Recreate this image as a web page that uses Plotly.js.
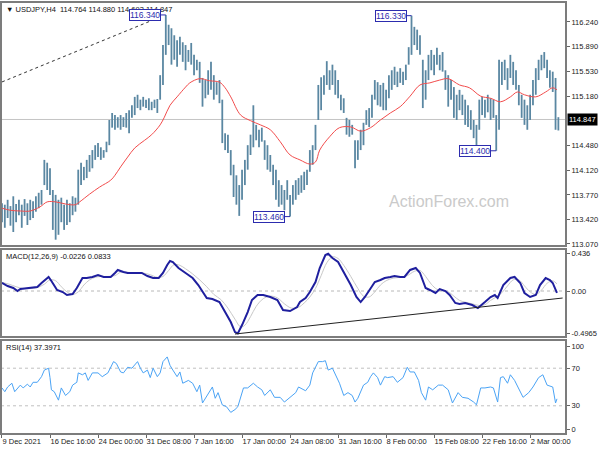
<!DOCTYPE html>
<html><head><meta charset="utf-8">
<script src="https://cdn.plot.ly/plotly-3.0.1.min.js"></script>
<style>html,body{margin:0;padding:0;background:#fff}#chart{width:600px;height:450px}</style>
</head><body><div id="chart"></div>
<script>
const symbolName = 'USDJPY,H4';
const lastBar = [114.764, 114.880, 114.693, 114.847];
const barsPerEntry = 2;
const barHigh = [113.65,113.63,113.70,113.61,113.75,113.64,113.70,113.63,113.71,113.65,
113.70,113.68,113.75,113.80,113.84,114.27,114.23,114.15,113.84,113.77,
113.70,113.73,113.63,113.70,113.65,113.75,113.73,114.13,114.23,114.17,
114.27,114.34,114.41,114.48,114.51,114.45,114.41,114.53,114.84,114.94,
114.91,114.88,114.91,114.88,114.94,114.98,115.05,115.17,115.20,115.13,
115.17,115.13,115.15,115.10,115.13,115.14,115.48,115.91,116.34,116.20,
116.15,116.05,115.98,116.03,115.95,115.91,115.84,115.94,115.77,115.70,
115.67,115.44,115.41,115.55,115.67,115.48,115.38,115.41,115.13,114.65,
114.63,114.41,114.20,114.05,113.91,114.13,114.27,114.48,114.63,115.05,
114.77,114.70,114.73,114.55,114.48,114.34,114.20,114.13,113.98,113.91,
113.84,113.98,113.77,113.91,113.98,114.01,114.05,114.10,114.13,114.41,
114.48,114.77,115.34,115.45,115.48,115.68,115.55,115.63,115.55,115.41,
115.20,115.15,114.87,114.84,114.77,114.55,114.55,114.70,114.80,114.98,
115.01,115.20,115.41,115.38,115.34,115.37,115.27,115.48,115.55,115.60,
115.53,115.58,115.53,115.63,115.88,116.33,116.17,116.13,116.05,115.70,
115.55,115.77,115.84,115.77,115.87,115.77,115.81,115.55,115.48,115.41,
115.31,115.20,115.27,115.20,115.13,115.05,114.98,114.84,114.77,115.13,
115.17,115.13,115.20,115.15,115.13,114.91,115.70,115.67,115.70,115.58,
115.77,115.67,115.55,115.34,115.20,115.13,115.05,115.20,115.41,115.58,
115.70,115.77,115.81,115.70,115.55,115.53,115.44,114.88];
const barLow = [113.38,113.30,113.44,113.33,113.24,113.38,113.48,113.30,113.47,113.34,
113.41,113.44,113.53,113.58,113.63,113.91,113.84,113.77,113.27,113.13,
113.20,113.38,113.27,113.34,113.38,113.48,113.53,113.63,113.91,113.98,
114.01,114.10,114.15,114.27,114.31,114.27,114.30,114.38,114.48,114.73,
114.70,114.73,114.70,114.74,114.73,114.65,114.87,114.91,115.01,114.98,
115.03,115.01,114.98,114.98,115.01,114.94,115.13,115.34,115.77,115.91,
115.63,115.70,115.60,115.77,115.67,115.55,115.67,115.63,115.48,115.55,
115.37,115.03,115.15,115.20,115.27,115.13,115.20,115.08,114.51,114.41,
114.37,114.05,113.74,113.63,113.47,113.70,113.91,114.13,114.34,114.45,
114.55,114.45,114.53,114.27,114.13,114.10,113.91,113.70,113.60,113.63,
113.55,113.70,113.46,113.63,113.70,113.77,113.80,113.84,113.91,114.10,
114.20,114.41,114.84,114.98,115.20,115.34,115.27,115.34,115.20,115.15,
114.98,114.94,114.63,114.60,114.63,114.15,114.27,114.41,114.48,114.77,
114.74,114.87,115.13,115.05,115.03,114.98,114.98,115.15,115.27,115.34,
115.31,115.37,115.34,115.41,115.63,115.77,115.91,115.84,115.77,115.01,
115.13,115.41,115.55,115.48,115.63,115.55,115.53,115.27,115.03,115.13,
114.87,114.84,114.98,114.91,114.77,114.74,114.70,114.58,114.48,114.70,
114.91,114.87,114.95,114.84,114.87,114.40,114.70,115.34,115.41,115.27,
115.44,115.34,115.27,115.05,114.87,114.77,114.70,114.84,115.05,115.20,
115.41,115.55,115.58,115.44,115.30,115.24,114.70,114.69];

const maIdx = [0,6,13,20,27,32,38,45,52,55,62,69,77,80,84,89,94,101,106,112,
115,119,124,130,133,140,147,154,158,162,169,176,183,190,197,204,211,218,222,225,
232,239,247,254,261,268,275,282,289,296,303,310,316,324,331,339,346,353,360,365,
370,378,385,390,393];
const maVal = [113.58,113.55,113.54,113.54,113.60,113.67,113.67,113.64,113.63,113.67,
113.78,113.88,113.98,114.05,114.17,114.31,114.44,114.55,114.63,114.77,
114.88,115.05,115.17,115.31,115.37,115.43,115.40,115.38,115.30,115.17,
114.91,114.83,114.77,114.70,114.53,114.34,114.27,114.21,114.24,114.41,
114.60,114.73,114.74,114.68,114.73,114.84,114.94,115.03,115.18,115.34,
115.37,115.41,115.43,115.34,115.30,115.18,115.15,115.10,115.17,115.24,
115.20,115.17,115.24,115.30,115.27];

const trendIdx = [0, 112];
const trendVal = [115.383, 116.31];

const markIdx = [116, 290, 204, 350];
const markPrice = [116.34, 116.33, 113.46, 114.40];
const markText = ['116.340', '116.330', '113.460', '114.400'];

const macdIdx = [0,4,8,11,13,20,25,28,31,33,35,39,43,46,50,53,57,60,64,68,
72,77,80,82,86,89,94,99,103,107,111,114,117,119,121,125,130,135,139,142,
145,149,154,158,162,165,167,170,174,177,181,185,190,195,199,204,209,211,215,218,
222,225,229,231,234,238,242,247,251,254,257,261,264,268,271,275,278,282,285,289,
293,296,300,303,307,310,314,317,321,324,328,333,337,342,346,349,351,355,360,363,
367,370,374,378,381,385,388,390,393];
const macdVal = [0.094,0.058,0.035,0.0,0.023,0.035,0.047,0.094,0.140,0.164,
0.117,0.012,-0.012,-0.047,-0.035,0.035,0.152,0.152,0.164,0.187,
0.164,0.164,0.211,0.246,0.222,0.211,0.211,0.211,0.175,0.152,
0.152,0.211,0.304,0.351,0.339,0.269,0.211,0.152,0.070,-0.012,
-0.082,-0.094,-0.129,-0.246,-0.363,-0.480,-0.4965,-0.398,-0.246,-0.105,
-0.047,-0.047,-0.070,-0.105,-0.222,-0.234,-0.187,-0.129,-0.082,-0.012,
0.105,0.269,0.421,0.436,0.386,0.339,0.222,0.070,-0.070,-0.129,
-0.070,0.035,0.105,0.129,0.152,0.164,0.175,0.164,0.164,0.246,
0.269,0.211,0.035,0.012,-0.023,0.023,0.0,-0.047,-0.140,-0.152,
-0.140,-0.164,-0.199,-0.129,-0.070,-0.047,-0.082,0.070,0.152,0.164,
0.094,-0.023,-0.070,-0.047,0.070,0.152,0.129,0.094,-0.0226];
const sigIdx = [0,5,10,15,20,25,30,34,38,42,46,50,54,58,62,66,70,75,80,84,
88,95,100,105,110,114,118,122,126,130,135,140,145,150,155,160,165,169,172,176,
180,185,190,195,200,205,210,214,218,222,226,230,234,238,242,247,252,256,260,264,
268,272,277,282,287,292,296,300,304,308,312,316,320,324,328,333,338,342,346,350,
354,358,362,366,370,374,378,382,386,390,393];
const sigVal = [0.10,0.08,0.05,0.03,0.03,0.04,0.08,0.13,0.12,0.05,
-0.01,-0.04,-0.01,0.07,0.13,0.16,0.17,0.17,0.18,0.22,
0.22,0.21,0.21,0.19,0.16,0.17,0.24,0.31,0.30,0.26,
0.20,0.13,0.05,-0.04,-0.10,-0.20,-0.33,-0.42,-0.40,-0.30,
-0.18,-0.09,-0.06,-0.08,-0.15,-0.20,-0.19,-0.14,-0.07,0.03,
0.18,0.33,0.40,0.38,0.30,0.17,0.03,-0.06,-0.07,-0.01,
0.07,0.12,0.15,0.16,0.18,0.23,0.24,0.17,0.08,0.02,
0.00,-0.01,-0.06,-0.11,-0.13,-0.15,-0.17,-0.16,-0.11,-0.07,
-0.02,0.06,0.13,0.13,0.06,-0.01,-0.04,0.01,0.09,0.12,0.0833];
const macdTrendIdx = [165, 397];
const macdTrendVal = [-0.503, -0.082];

const rsiIdx = [0,2,4,7,9,13,15,18,20,22,25,28,30,33,34,35,37,40,42,45,
48,50,53,54,57,59,61,64,68,71,75,79,81,84,86,89,92,96,98,100,
103,105,107,110,112,114,117,119,121,124,126,128,132,135,138,140,142,145,149,151,
153,156,159,162,165,167,169,171,174,178,181,184,186,190,193,197,200,204,208,210,
215,218,220,224,227,229,231,234,237,239,242,245,248,250,252,256,259,261,263,266,
268,271,273,277,280,284,287,289,292,295,297,300,302,305,309,312,316,319,323,326,
330,334,336,339,342,346,348,351,353,355,358,360,363,367,369,373,376,380,383,386,
390,392,393];
const rsiVal = [49,45,50,54,45,52,49,53,50,55,55,61,68,70,60,47,45,36,49,41,
45,52,55,65,63,65,57,65,65,61,65,77,75,66,65,71,70,77,70,65,
68,60,70,61,65,77,82,73,68,61,66,54,57,54,45,52,33,40,50,38,
44,31,29,23,26,29,39,49,49,54,50,47,41,47,39,39,34,39,44,50,
46,52,65,77,77,78,68,70,61,54,41,44,41,34,38,52,55,61,65,60,
52,61,60,61,55,60,71,66,66,57,44,36,50,47,52,52,47,33,44,39,
38,34,31,49,49,50,49,34,60,61,54,63,57,44,39,44,50,60,63,52,
50,33,37.4];

const tickIdx = [0,34,68,102,136,170,204,238,272,306,340,374];
const tickText = ['9 Dec 2021','16 Dec 16:00','24 Dec 00:00','31 Dec 08:00','7 Jan 16:00','17 Jan 00:00',
  '24 Jan 08:00','31 Jan 16:00','8 Feb 00:00','15 Feb 08:00','22 Feb 16:00','2 Mar 00:00'];
const priceTicks = [116.24,115.89,115.53,115.18,114.48,114.12,113.77,113.42,113.07];
const macdTicks = [0.436, 0, -0.4965];
const macdTickText = ['0.436','0.00','-0.4965'];
const rsiTickVals = [93.6, 70, 30, 5.3];
const rsiTickText = ['100','70','30','0'];
const macdName = 'MACD(12,26,9)';
const rsiName = 'RSI(14)';
const watermark = 'ActionForex.com';

const FONT = 'Liberation Sans, Arial, sans-serif';
const barColor = '#5a87a2';
const markColor = '#2c2cae';

const traces = [
  {type:'ohlc', x: barHigh.map((_,k)=>k*barsPerEntry), open: barLow, high: barHigh, low: barLow, close: barHigh,
   increasing:{line:{color:barColor,width:1.8}}, decreasing:{line:{color:barColor,width:1.8}},
   tickwidth:0, xaxis:'x', yaxis:'y', hoverinfo:'skip', showlegend:false},
  {type:'scatter', mode:'lines', x: maIdx, y: maVal, line:{color:'#f24c4c', width:1, shape:'spline'}, xaxis:'x', yaxis:'y', hoverinfo:'skip', showlegend:false},
  {type:'scatter', mode:'lines', x: trendIdx, y: trendVal, line:{color:'#333', width:1, dash:'dot'}, xaxis:'x', yaxis:'y', hoverinfo:'skip', showlegend:false},
  {type:'scatter', mode:'lines', x: sigIdx, y: sigVal, line:{color:'#c8c8c8', width:1, shape:'spline'}, xaxis:'x', yaxis:'y2', hoverinfo:'skip', showlegend:false},
  {type:'scatter', mode:'lines', x: macdIdx, y: macdVal, line:{color:'#1f1f9e', width:2}, xaxis:'x', yaxis:'y2', hoverinfo:'skip', showlegend:false},
  {type:'scatter', mode:'lines', x: macdTrendIdx, y: macdTrendVal, line:{color:'#222', width:1}, xaxis:'x', yaxis:'y2', hoverinfo:'skip', showlegend:false},
  {type:'scatter', mode:'lines', x: rsiIdx, y: rsiVal, line:{color:'#4aa3f5', width:1}, xaxis:'x', yaxis:'y3', hoverinfo:'skip', showlegend:false}
];

const axisCommon = {showgrid:false, zeroline:false, showline:false, ticks:'outside', ticklen:3, tickcolor:'#666',
  tickfont:{family:FONT, size:7.5, color:'#222'}, automargin:false, fixedrange:true};

const annotations = [
  {xref:'paper', yref:'paper', x:0, y:1, xanchor:'left', yanchor:'top', xshift:3, yshift:-1, showarrow:false,
   text:'▼ ' + symbolName + '  ' + lastBar.map(v=>v.toFixed(3)).join(' '), font:{family:FONT, size:7.5, color:'#111'}},
  {xref:'paper', yref:'y2 domain', x:0, y:1, xanchor:'left', yanchor:'top', xshift:3, yshift:-1, showarrow:false,
   text: macdName + ' ' + macdVal[macdVal.length-1].toFixed(4) + ' ' + sigVal[sigVal.length-1].toFixed(4), font:{family:FONT, size:7.5, color:'#111'}},
  {xref:'paper', yref:'y3 domain', x:0, y:1, xanchor:'left', yanchor:'top', xshift:3, yshift:-1, showarrow:false,
   text: rsiName + ' 37.3971', font:{family:FONT, size:7.5, color:'#111'}},
  {xref:'paper', yref:'paper', x:0.793, y:0.538, xanchor:'center', yanchor:'middle', showarrow:false, text: watermark, font:{family:FONT, size:16, color:'#cacaca'}},
  {xref:'paper', yref:'y', x:1, y:lastBar[3], xanchor:'left', yanchor:'middle', xshift:1, showarrow:false, text: lastBar[3].toFixed(3),
   bgcolor:'#000', borderpad:1, font:{family:FONT, size:7.5, color:'#fff'}}
];
markIdx.forEach((ix, n) => {
  annotations.push({xref:'x', yref:'y', x: ix, y: markPrice[n], text: markText[n], showarrow:true, arrowhead:0,
    arrowwidth:1, arrowcolor:markColor, ax:-21, ay:0, standoff:0, bgcolor:'#fff', bordercolor:markColor, borderwidth:1, borderpad:0,
    font:{family:FONT, size:8.5, color:markColor}});
});

const shapes = [
  {type:'line', xref:'paper', yref:'y', x0:0, x1:1, y0:lastBar[3], y1:lastBar[3], line:{color:'#c4c4c4', width:1}, layer:'below'},
  {type:'line', xref:'paper', yref:'y2', x0:0, x1:1, y0:0, y1:0, line:{color:'#b8b8b8', width:1, dash:'dot'}, layer:'below'},
  {type:'line', xref:'paper', yref:'y3', x0:0, x1:1, y0:70, y1:70, line:{color:'#c0c0c0', width:1, dash:'dot'}, layer:'below'},
  {type:'line', xref:'paper', yref:'y3', x0:0, x1:1, y0:30, y1:30, line:{color:'#c0c0c0', width:1, dash:'dot'}, layer:'below'},
  {type:'rect', xref:'paper', yref:'y domain', x0:0, x1:1, y0:0, y1:1, line:{color:'#7c7c7c', width:2}},
  {type:'rect', xref:'paper', yref:'y2 domain', x0:0, x1:1, y0:0, y1:1, line:{color:'#7c7c7c', width:2}},
  {type:'rect', xref:'paper', yref:'y3 domain', x0:0, x1:1, y0:0, y1:1, line:{color:'#7c7c7c', width:2}}
];

const layout = {
  width:600, height:450, margin:{l:1, r:34, t:2, b:16},
  paper_bgcolor:'#fff', plot_bgcolor:'#fff', showlegend:false,
  font:{family:FONT, size:7.5, color:'#222'},
  xaxis: Object.assign({}, axisCommon, {domain:[0,1], range:[-0.7, 399.4], anchor:'y3', tickvals:tickIdx, ticktext:tickText,
    tickangle:0, ticklabelposition:'outside right', rangeslider:{visible:false}}),
  yaxis: Object.assign({}, axisCommon, {domain:[0.4352,1], range:[113.04,116.525], side:'right', anchor:'x',
    tickvals:priceTicks, ticktext:priceTicks.map(v=>v.toFixed(3))}),
  yaxis2: Object.assign({}, axisCommon, {domain:[0.2245,0.4282], range:[-0.538,0.491], side:'right', anchor:'x',
    tickvals:macdTicks, ticktext:macdTickText}),
  yaxis3: Object.assign({}, axisCommon, {domain:[0,0.2176], range:[0,100], side:'right', anchor:'x',
    tickvals:rsiTickVals, ticktext:rsiTickText}),
  annotations: annotations,
  shapes: shapes
};

Plotly.newPlot('chart', traces, layout, {staticPlot:true, displayModeBar:false});
</script>
</body></html>
